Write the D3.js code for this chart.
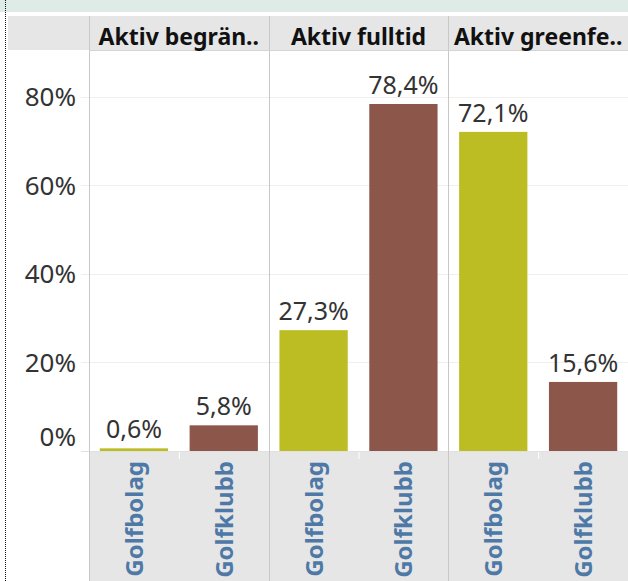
<!DOCTYPE html>
<html>
<head>
<meta charset="utf-8">
<script src="https://cdn.jsdelivr.net/npm/d3@7"></script>
<style>
  body { margin: 0; background: #fff; }
  svg { display: block; }
</style>
</head>
<body>
<div id="chart-area"></div>
<script>
// data
const groups = ["Aktiv begrän..", "Aktiv fulltid", "Aktiv greenfe.."]
const types = ["Golfbolag", "Golfklubb"]
const golfbolag = [0.006, 0.273, 0.721]
const golfklubb = [0.058, 0.784, 0.156]
const yTicks = [0, 0.2, 0.4, 0.6, 0.8]

const WIDTH = 628
const HEIGHT = 581
const PLOT = { LEFT: 89, RIGHT: 628, TOP: 50, BOTTOM: 451 }
const FONT = "'Noto Sans', sans-serif"

const colors = { Golfbolag: "#bcbd22", Golfklubb: "#8c564b" }

const rows = []
groups.forEach((g, i) => {
  rows.push({ group: g, type: "Golfbolag", value: golfbolag[i] })
  rows.push({ group: g, type: "Golfklubb", value: golfklubb[i] })
})

const svg = d3.select("#chart-area").append("svg")
  .attr("width", WIDTH)
  .attr("height", HEIGHT)

// top band + header row
svg.append("rect").attr("x", 0).attr("y", 0).attr("width", WIDTH).attr("height", 12)
  .attr("fill", "#deebe7")
svg.append("rect").attr("x", 8).attr("y", 16).attr("width", WIDTH - 8).attr("height", 34)
  .attr("fill", "#e6e6e6")

// scales
const x0 = d3.scaleBand().domain(groups).range([PLOT.LEFT, PLOT.RIGHT])
const x1 = d3.scaleBand().domain(types).range([0, x0.bandwidth()])
  .paddingInner(0.24).paddingOuter(0.12)
const y = d3.scaleLinear().domain([0, 0.906]).range([PLOT.BOTTOM, PLOT.TOP])

const fmtPct = d => d3.format(".1f")(d * 100).replace(".", ",") + "%"

// x label area
svg.append("rect").attr("x", PLOT.LEFT).attr("y", PLOT.BOTTOM + 1)
  .attr("width", PLOT.RIGHT - PLOT.LEFT).attr("height", HEIGHT - PLOT.BOTTOM)
  .attr("fill", "#e6e6e6")

// gridlines
const grid = svg.append("g")
grid.selectAll("line").data(yTicks).join("line")
  .attr("x1", 81).attr("x2", PLOT.RIGHT)
  .attr("y1", d => Math.round(y(d)) + 0.5).attr("y2", d => Math.round(y(d)) + 0.5)
  .attr("stroke", d => d === 0 ? "#e0e0e0" : "#efefef")
  .attr("stroke-width", 1)

// y axis labels
svg.append("g").selectAll("text").data(yTicks).join("text")
  .attr("x", 76)
  .attr("y", d => Math.min(y(d) + 9.5, PLOT.BOTTOM - 5))
  .attr("text-anchor", "end")
  .attr("font-family", FONT)
  .attr("font-size", "26px")
  .attr("fill", "#333")
  .text(d => d3.format(".0%")(d))

// small white ticks between bands in the label area
svg.append("g").selectAll("line").data(groups).join("line")
  .attr("x1", d => x0(d) + x0.bandwidth() / 2 + 0.5)
  .attr("x2", d => x0(d) + x0.bandwidth() / 2 + 0.5)
  .attr("y1", PLOT.BOTTOM + 1).attr("y2", PLOT.BOTTOM + 8)
  .attr("stroke", "#fff").attr("stroke-width", 1)

// bars
svg.append("g").selectAll("rect").data(rows).join("rect")
  .attr("x", d => x0(d.group) + x1(d.type))
  .attr("y", d => y(d.value))
  .attr("width", x1.bandwidth())
  .attr("height", d => y(0) - y(d.value))
  .attr("fill", d => colors[d.type])

// value labels
svg.append("g").selectAll("text").data(rows).join("text")
  .attr("x", d => x0(d.group) + x1(d.type) + x1.bandwidth() / 2)
  .attr("y", d => y(d.value) - 10)
  .attr("text-anchor", "middle")
  .attr("font-family", FONT)
  .attr("font-size", "25px")
  .attr("fill", "#333")
  .text(d => fmtPct(d.value))

// x category labels
svg.append("g").selectAll("text").data(rows).join("text")
  .attr("transform", d => `translate(${x0(d.group) + x1(d.type) + x1.bandwidth() / 2 + 9}, 461) rotate(-90)`)
  .attr("text-anchor", "end")
  .attr("font-family", FONT)
  .attr("font-weight", "bold")
  .attr("font-size", "24px")
  .attr("fill", "#4e79a7")
  .text(d => d.type)

// panel separators
const seps = groups.map(g => x0(g)).concat([PLOT.RIGHT])
svg.append("g").selectAll("line").data(seps).join("line")
  .attr("x1", d => Math.round(d) + 0.5).attr("x2", d => Math.round(d) + 0.5)
  .attr("y1", 16).attr("y2", HEIGHT)
  .attr("stroke", "#c8c8c8").attr("stroke-width", 1)
svg.append("line").attr("x1", PLOT.LEFT).attr("x2", PLOT.RIGHT)
  .attr("y1", 50.5).attr("y2", 50.5).attr("stroke", "#d4d4d4")

// header labels
svg.append("g").selectAll("text").data(groups).join("text")
  .attr("x", d => x0(d) + x0.bandwidth() / 2)
  .attr("y", 45)
  .attr("text-anchor", "middle")
  .attr("font-family", FONT)
  .attr("font-weight", "bold")
  .attr("font-size", "23px")
  .attr("fill", "#111")
  .text(d => d)

// dotted left border
svg.append("line").attr("x1", 5.5).attr("x2", 5.5).attr("y1", 0).attr("y2", HEIGHT)
  .attr("stroke", "#111").attr("stroke-width", 1).attr("stroke-dasharray", "1,1")
</script>
</body>
</html>
